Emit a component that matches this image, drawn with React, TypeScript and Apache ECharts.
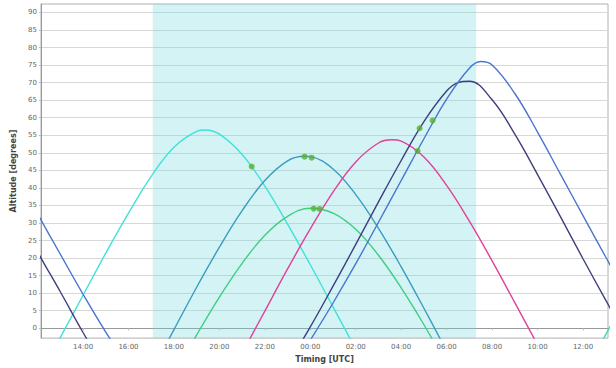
import React, { useEffect, useRef } from "react";
import * as echarts from "echarts";

// Hours are counted from 00:00 of the first day (24 = next midnight)
const hourTicks = [14, 16, 18, 20, 22, 24, 26, 28, 30, 32, 34, 36];
const altTicks = [0, 5, 10, 15, 20, 25, 30, 35, 40, 45, 50, 55, 60, 65, 70, 75, 80, 85, 90];
const nightWindow = [17.07, 31.3];

const cyanData = [
  [12, -14.5], [13, -2.6], [14, 9.4], [15, 21.4], [16, 32.8], [17, 43.3], [18, 51.6], [19, 56.1],
  [19.36, 56.5], [20, 55.3], [21, 49.5], [22, 40.5], [23, 29.7], [24, 18.1], [25, 6.1], [26, -6.0],
];
const cyanNextData = [[36.5, -7.8], [37, -1.8], [37.5, 4.2]];
const tealData = [
  [17, -12.6], [18, -0.4], [19, 11.7], [20, 23.1], [21, 33.5], [22, 42.1], [23, 47.7], [23.75, 49.0],
  [24, 48.9], [25, 45.4], [26, 38.1], [27, 28.5], [28, 17.5], [29, 5.7], [30, -6.5],
];
const greenData = [
  [18, -13.5], [19, -1.9], [20, 8.9], [21, 18.5], [22, 26.5], [23, 31.9], [24, 34.2], [25, 32.8],
  [26, 28.2], [27, 20.8], [28, 11.5], [29, 1.0], [30, -10.4],
];
const magentaData = [
  [21, -7.1], [22, 4.9], [23, 16.9], [24, 28.3], [25, 38.8], [26, 47.4], [27, 52.8], [27.6, 53.7],
  [28, 53.3], [29, 48.8], [30, 40.7], [31, 30.5], [32, 19.2], [33, 7.3], [34, -4.7],
];
const navyPrevData = [[11.5, 28.5], [12, 21.8], [13, 10.4], [14, -1.2], [15, -12]];
const navyData = [
  [23, -10.4], [24, 0.4], [25, 12.0], [26, 23.9], [27, 36.0], [28, 47.8], [29, 58.9], [30, 67.6],
  [30.5, 70.0], [31, 70.4], [32, 65.1], [33, 55.3], [34, 43.8], [35, 31.9], [36, 19.8], [37, 8.0], [37.5, 2.3],
];
const bluePrevData = [[11.5, 38.5], [12, 32.6], [13, 21.1], [14, 9.7], [15, -1.1], [16, -10.8]];
const blueData = [
  [24, -3.4], [25, 7.2], [26, 18.4], [27, 30.2], [28, 42.1], [29, 54.0], [30, 65.3], [31, 74.1],
  [31.5, 76.0], [32, 75.0], [33, 66.9], [34, 55.9], [35, 44.0], [36, 32.1], [37, 20.3], [37.5, 14.5],
];
const markerData = [
  [21.42, 46.1], [23.75, 48.9], [24.06, 48.6], [24.15, 34.1], [24.41, 34.0],
  [28.72, 50.5], [28.81, 57.0], [29.38, 59.2],
];

const pad = (n: number) => (n < 10 ? "0" + n : "" + n);

export default function App() {
  const ref = useRef<HTMLDivElement>(null);
  useEffect(() => {
    if (!ref.current) return;
    const chart = echarts.init(ref.current, undefined, { renderer: "svg" });
    const font = "DejaVu Sans";
    const line = (name: string, data: number[][], color: string) => ({
      name,
      type: "line",
      data,
      smooth: 0.4,
      showSymbol: false,
      clip: true,
      lineStyle: { color, width: 1.4 },
      itemStyle: { color },
      z: 3,
    });
    chart.setOption({
      animation: false,
      backgroundColor: "#ffffff",
      grid: {
        left: 41,
        right: 8,
        top: 4,
        bottom: 27,
        show: true,
        borderColor: "#b0b0b0",
        borderWidth: 1,
      },
      xAxis: {
        type: "value",
        min: 12.15,
        max: 37.1,
        name: "Timing [UTC]",
        nameLocation: "middle",
        nameGap: 14,
        nameTextStyle: { fontFamily: font, fontSize: 8, fontWeight: "bold", color: "#444" },
        axisLine: { show: true, lineStyle: { color: "#999" } },
        axisTick: { show: true, length: 2, customValues: hourTicks, lineStyle: { color: "#bbb" } },
        splitLine: { show: false },
        axisLabel: {
          customValues: hourTicks,
          fontFamily: font,
          fontSize: 7,
          color: "#666",
          margin: 5,
          formatter: (v: number) => pad(Math.round(v) % 24) + ":00",
        },
      },
      yAxis: {
        type: "value",
        min: -2.8,
        max: 92.4,
        name: "Altitude [degrees]",
        nameLocation: "middle",
        nameGap: 20,
        nameTextStyle: { fontFamily: font, fontSize: 8, fontWeight: "bold", color: "#444" },
        axisLine: { show: true, lineStyle: { color: "#999" } },
        axisTick: { show: true, length: 2, customValues: altTicks, lineStyle: { color: "#bbb" } },
        splitLine: { show: true, lineStyle: { color: "#d8d8d8", width: 1 } },
        axisLabel: {
          customValues: altTicks,
          fontFamily: font,
          fontSize: 7,
          color: "#666",
          margin: 4,
        },
      },
      series: [
        {
          type: "line",
          data: [],
          markArea: {
            silent: true,
            itemStyle: { color: "rgba(110, 215, 220, 0.3)" },
            data: [[{ xAxis: nightWindow[0] }, { xAxis: nightWindow[1] }]],
          },
          z: 1,
        },
        line("cyan", cyanData, "#3fe2d8"),
        line("cyanNext", cyanNextData, "#3fd8b8"),
        line("teal", tealData, "#3a9cc0"),
        line("green", greenData, "#3ccf80"),
        line("magenta", magentaData, "#e0409a"),
        line("navyPrev", navyPrevData, "#3e3e80"),
        line("navy", navyData, "#3e3e80"),
        line("bluePrev", bluePrevData, "#4a74d0"),
        line("blue", blueData, "#4a74d0"),
        {
          type: "scatter",
          data: markerData,
          symbolSize: 6,
          itemStyle: { color: "#5aae32" },
          z: 5,
        },
      ],
    });
    return () => chart.dispose();
  }, []);
  return (
    <div
      ref={ref}
      style={{ position: "fixed", left: 0, top: 0, width: 616, height: 368, background: "#fff" }}
    />
  );
}
